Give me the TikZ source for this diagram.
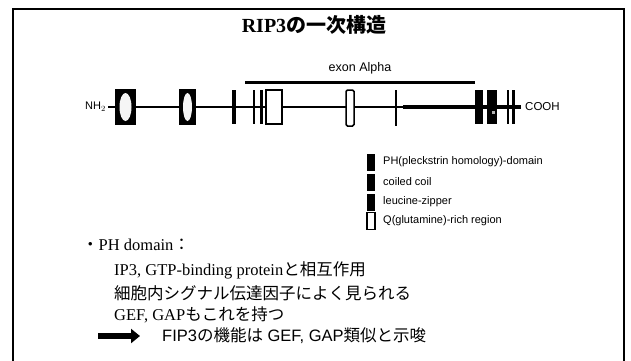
\documentclass[tikz,border=0pt]{standalone}
\usepackage{fontspec}
\setmainfont{Liberation Serif}
\setsansfont{Liberation Sans}
\newfontfamily\jp{Noto Sans CJK JP}
\usetikzlibrary{arrows.meta, shapes.geometric}

\begin{document}
\begin{tikzpicture}[x=1pt, y=-1pt, inner sep=0pt]
\tikzstyle{dom}=[draw, line width=1.5pt, minimum height=34pt]
\tikzstyle{phbox}=[dom, fill=black, minimum width=19pt]
\tikzstyle{blob}=[ellipse, fill=gray!8, minimum width=12pt, minimum height=28pt]
\tikzstyle{bar}=[fill=black, minimum height=34pt]
\tikzstyle{qbox}=[dom, fill=white]
\tikzstyle{lgd}=[minimum width=8pt, minimum height=17pt, line width=1.2pt]
\tikzstyle{lgdtxt}=[anchor=west, font=\sffamily\fontsize{11}{12}\selectfont]
\tikzstyle{body}=[anchor=west, font=\fontsize{16.5}{19}\selectfont]
\useasboundingbox (0,0) rectangle (631,360);
\fill[white] (0,0) rectangle (631,360);
% frame
\draw[line width=1.3pt] (13,365) -- (13,9) -- (624,9) -- (624,365);
\node[font=\bfseries\fontsize{20}{22}\selectfont] (title) at (314,25) {RIP3{\jp\bfseries の一次構造}};
% protein
\node[anchor=east, font=\sffamily\fontsize{11}{12}\selectfont] (nh) at (106,107) {NH$_2$};
\node[anchor=west, font=\sffamily\fontsize{11.5}{12}\selectfont] (cooh) at (525,107) {COOH};
\coordinate (thk) at (403,107);
\draw[line width=2.6pt] ([xshift=2pt]nh.east) -- ([xshift=-4pt]cooh.west);
\draw[line width=3.6pt] (thk) -- ([xshift=-4pt]cooh.west);
\node[phbox] (ph1) at (125.5,107) {};
\node[blob] (ph1b) at (ph1) {};
\node[phbox, minimum width=15pt] (ph2) at (187.5,107) {};
\node[blob, minimum width=9pt] (ph2b) at (ph2) {};
\node[bar, minimum width=4pt] (b1) at (234,107) {};
\node[bar, minimum width=2pt] (b2) at (254,107) {};
\node[bar, minimum width=3pt] (b3) at (261.5,107) {};
\node[qbox, minimum width=16pt] (q1) at (274,107) {};
\node[qbox, minimum width=8pt, rounded corners=1.5pt, minimum height=36pt] (q2) at (350,108) {};
\node[bar, minimum width=2pt, minimum height=36pt] (b4) at (396,108) {};
\node[bar, minimum width=8pt] (cc) at (479,107) {};
\node[bar, minimum width=10pt] (lz) at (492,107) {};
\node[fill=gray!60, minimum size=3pt] (lzs) at (493,112) {};
\node[bar, minimum width=2.5pt] (b5) at (508,107) {};
\node[bar, minimum width=2.5pt] (b6) at (513.5,107) {};
% exon
\coordinate (exA) at (245,82);
\coordinate (exB) at (475,82);
\draw[line width=3pt] (exA) -- (exB) node[midway, above=6pt, font=\sffamily\fontsize{12.5}{14}\selectfont] (exon) {exon Alpha};
% legend
\node[lgd, fill=black] (l1) at (371,162) {};
\node[lgd, fill=black] (l2) at (371,182) {};
\node[lgd, fill=black] (l3) at (371,202) {};
\node[lgd, draw, fill=white] (l4) at (371,221) {};
\node[lgdtxt] (t1) at (383,162) {PH(pleckstrin homology)-domain};
\node[lgdtxt] (t2) at (383,182) {coiled coil};
\node[lgdtxt] (t3) at (383,202) {leucine-zipper};
\node[lgdtxt] (t4) at (383,221) {Q(glutamine)-rich region};
% text
\node[body] (pht) at (82,245) {{\jp ・}PH domain{\jp ：}};
\node[body] (s1) at (114,270) {IP3, GTP-binding protein{\jp と相互作用}};
\node[body] (s2) at (114,293) {\jp 細胞内シグナル伝達因子によく見られる};
\node[body] (s3) at (114,315) {GEF, GAP{\jp もこれを持つ}};
\node[anchor=west, font=\sffamily\fontsize{16.5}{19}\selectfont] (concl) at (162,336) {FIP3{\jp の機能は} GEF, GAP{\jp 類似と示唆}};
\coordinate (arrS) at (98,336);
\draw[line width=6pt, -{Triangle[length=9pt, width=14pt]}] (arrS) -- ([xshift=-22pt]concl.west);
\end{tikzpicture}
\end{document}
